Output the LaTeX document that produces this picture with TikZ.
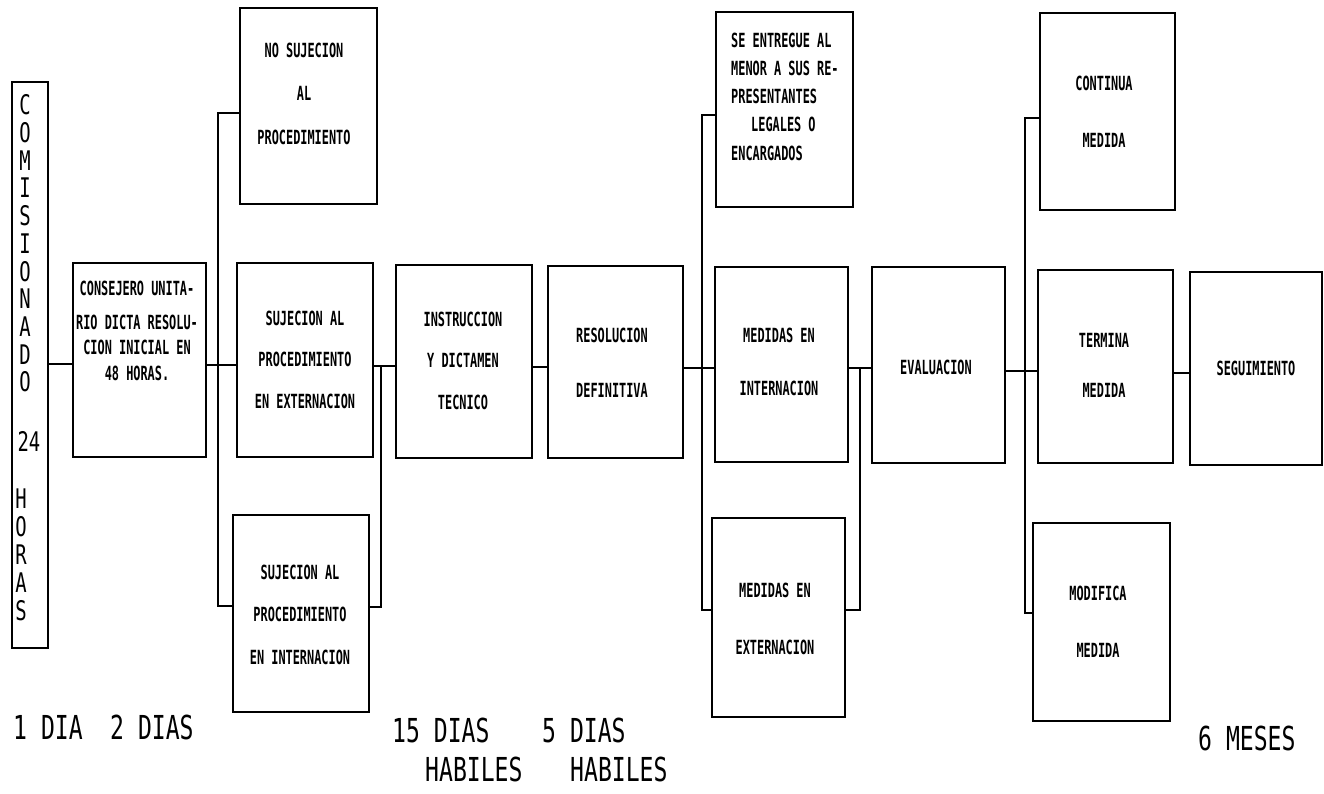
\documentclass[tikz,border=0pt]{standalone}
\usepackage{fontspec}
\newfontfamily\plotfont[FakeStretch=0.70]{DejaVu Sans Mono}
\newfontfamily\boxfont[FakeStretch=0.61]{DejaVu Sans Mono}
\tikzset{
  box/.style={draw, line width=2.4pt, inner sep=0pt},
  link/.style={line width=1.4pt},
  btxt/.style={font=\boxfont\bfseries\fontsize{19.5}{#1}\selectfont, inner sep=0pt, align=center},
  btxt/.default=25,
  lbl/.style={font=\plotfont\fontsize{33}{36}\selectfont, inner sep=0pt, anchor=west},
  vtxt/.style={font=\plotfont\fontsize{27}{#1}\selectfont, inner sep=0pt, align=center},
}
\begin{document}
\begin{tikzpicture}[x=1pt,y=-1pt]
\fill[white] (0,0) rectangle (1324,793);
\useasboundingbox (0,0) rectangle (1324,793);

% boxes
\node[box, minimum width=36pt,  minimum height=566pt] (com)    at (30,365) {};
\node[box, minimum width=133pt, minimum height=194pt] (cons)   at (139.5,360) {};
\node[box, minimum width=137pt, minimum height=196pt] (nosuj)  at (308.5,106) {};
\node[box, minimum width=136pt, minimum height=194pt] (sujext) at (305,360) {};
\node[box, minimum width=136pt, minimum height=197pt] (sujint) at (301,613.5) {};
\node[box, minimum width=136pt, minimum height=193pt] (instr)  at (464,361.5) {};
\node[box, minimum width=135pt, minimum height=192pt] (resol)  at (615.5,362) {};
\node[box, minimum width=137pt, minimum height=195pt] (entreg) at (784.5,109.5) {};
\node[box, minimum width=133pt, minimum height=195pt] (medint) at (781.5,364.5) {};
\node[box, minimum width=133pt, minimum height=199pt] (medext) at (778.5,617.5) {};
\node[box, minimum width=133pt, minimum height=196pt] (eval)   at (938.5,365) {};
\node[box, minimum width=135pt, minimum height=197pt] (cont)   at (1107.5,111.5) {};
\node[box, minimum width=135pt, minimum height=193pt] (term)   at (1105.5,366.5) {};
\node[box, minimum width=132pt, minimum height=193pt] (seg)    at (1256,368.5) {};
\node[box, minimum width=137pt, minimum height=198pt] (modif)  at (1101.5,622) {};

% texts in boxes
\node[vtxt=27.7] (com-t1) at (25,243.5) {C\\O\\M\\I\\S\\I\\O\\N\\A\\D\\O};
\node[vtxt=28] (com-t2) at (29,441) {24};
\node[vtxt=28] (com-t3) at (21,554.5) {H\\O\\R\\A\\S};
\node[btxt=25.5] (cons-t) at (137,330.5) {CONSEJERO UNITA-\\[8.5pt]RIO DICTA RESOLU-\\CION INICIAL EN\\48 HORAS.};
\node[btxt=43.5] (nosuj-t) at (304,93.5) {NO SUJECION\\AL\\PROCEDIMIENTO};
\node[btxt=41.5] (sujext-t) at (305,359.5) {SUJECION AL\\PROCEDIMIENTO\\EN EXTERNACION};
\node[btxt=42.5] (sujint-t) at (300,614.5) {SUJECION AL\\PROCEDIMIENTO\\EN INTERNACION};
\node[btxt=41.5] (instr-t) at (463,360.5) {INSTRUCCION\\Y DICTAMEN\\TECNICO};
\node[btxt=55] (resol-t) at (612,362.5) {RESOLUCION\\DEFINITIVA};
\node[btxt=28.3, align=left, anchor=west] (entreg-t) at (731,96.5) {SE ENTREGUE AL\\MENOR A SUS RE-\\PRESENTANTES\\\hspace*{20pt}LEGALES O\\ENCARGADOS};
\node[btxt=53] (medint-t) at (779,361.5) {MEDIDAS EN\\INTERNACION};
\node[btxt=57] (medext-t) at (775,618.5) {MEDIDAS EN\\EXTERNACION};
\node[btxt] (eval-t) at (936,367) {EVALUACION};
\node[btxt=57] (cont-t) at (1104,111.5) {CONTINUA\\MEDIDA};
\node[btxt=50] (term-t) at (1104,365) {TERMINA\\MEDIDA};
\node[btxt] (seg-t) at (1256,368) {SEGUIMIENTO};
\node[btxt=57] (modif-t) at (1098,621.5) {MODIFICA\\MEDIDA};

% bottom labels
\node[lbl] (l1) at (13,727.5) {1 DIA};
\node[lbl] (l2) at (110,727.5) {2 DIAS};
\node[lbl] (l3) at (392,730) {15 DIAS};
\node[lbl] (l4) at (542,730) {5 DIAS};
\node[lbl] (l5) at (425,769.5) {HABILES};
\node[lbl] (l6) at (570,769.5) {HABILES};
\node[lbl] (l7) at (1198,738.5) {6 MESES};

% connector coordinates
\coordinate (c0) at (60,364);
\coordinate (b1) at (218,365);
\coordinate (t1) at (218,113);
\coordinate (u1) at (218,606);
\coordinate (b2) at (381,366);
\coordinate (u2) at (381,607);
\coordinate (c3) at (540,367);
\coordinate (b4) at (702,368);
\coordinate (t4) at (702,115);
\coordinate (u4) at (702,610);
\coordinate (b5) at (860,368);
\coordinate (u5) at (860,610);
\coordinate (b6) at (1025,371);
\coordinate (t6) at (1025,118);
\coordinate (u6) at (1025,613);
\coordinate (c7) at (1180,373);

% connectors
\draw[link] (com.east |- c0) -- (cons.west |- c0);
\draw[link] (cons.east |- b1) -- (sujext.west |- b1);
\draw[link] (nosuj.west |- t1) -- (t1) -- (u1) -- (sujint.west |- u1);
\draw[link] (sujext.east |- b2) -- (instr.west |- b2);
\draw[link] (b2) -- (u2) -- (sujint.east |- u2);
\draw[link] (instr.east |- c3) -- (resol.west |- c3);
\draw[link] (resol.east |- b4) -- (medint.west |- b4);
\draw[link] (entreg.west |- t4) -- (t4) -- (u4) -- (medext.west |- u4);
\draw[link] (medint.east |- b5) -- (eval.west |- b5);
\draw[link] (b5) -- (u5) -- (medext.east |- u5);
\draw[link] (eval.east |- b6) -- (term.west |- b6);
\draw[link] (cont.west |- t6) -- (t6) -- (u6) -- (modif.west |- u6);
\draw[link] (term.east |- c7) -- (seg.west |- c7);
\end{tikzpicture}
\end{document}
